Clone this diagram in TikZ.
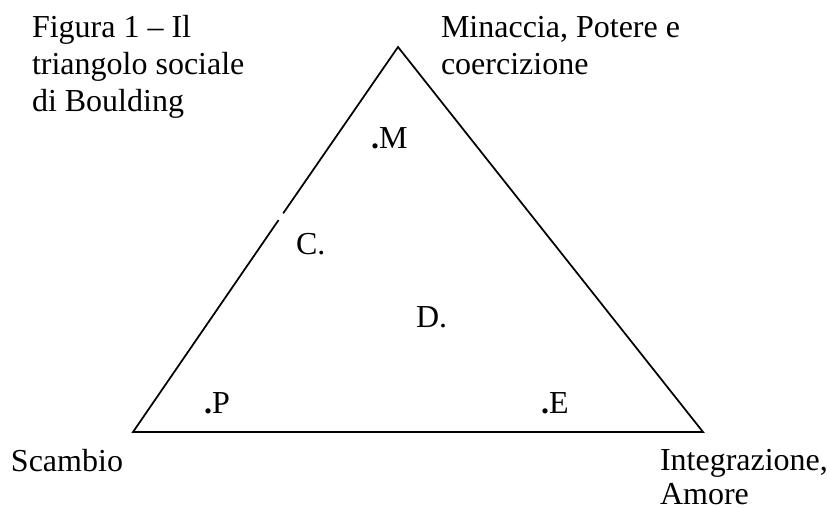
\documentclass[tikz,border=0pt]{standalone}
\usepackage{fontspec}
\setmainfont{Liberation Serif}
\begin{document}
\begin{tikzpicture}[x=0.75pt,y=-0.75pt,
  txt/.style={anchor=base west,inner sep=0pt,outer sep=0pt,font=\fontsize{24pt}{27.75pt}\selectfont},
  edge/.style={line width=1.3pt,line join=miter}]
\useasboundingbox (0,0) rectangle (827,509);
% triangle vertices
\coordinate (A) at (133,432);
\coordinate (B) at (398,47);
\coordinate (C) at (703,432);
\coordinate (G1) at (278.6,220);
\coordinate (G2) at (283.2,213.3);
\draw[edge] (G2) -- (B) -- (C) -- (A) -- (G1);
% title
\node[txt] (t1) at (32,38) {Figura 1 – Il};
\node[txt] (t2) at (32,75) {triangolo sociale};
\node[txt] (t3) at (32,112) {di Boulding};
% corner labels
\node[txt] (m1) at (441,38) {Minaccia, Potere e};
\node[txt] (m2) at (441,75) {coercizione};
\node[txt] (s1) at (11,471) {Scambio};
\node[txt] (i1) at (660,470) {Integrazione,};
\node[txt] (i2) at (660,504) {Amore};
% inner points
\node[txt] (pM) at (371,149) {\textbf{.}M};
\node[txt] (pC) at (296,255) {C.};
\node[txt] (pD) at (416,327) {D.};
\node[txt] (pP) at (204,413) {\textbf{.}P};
\node[txt] (pE) at (541,413) {\textbf{.}E};
\end{tikzpicture}
\end{document}
